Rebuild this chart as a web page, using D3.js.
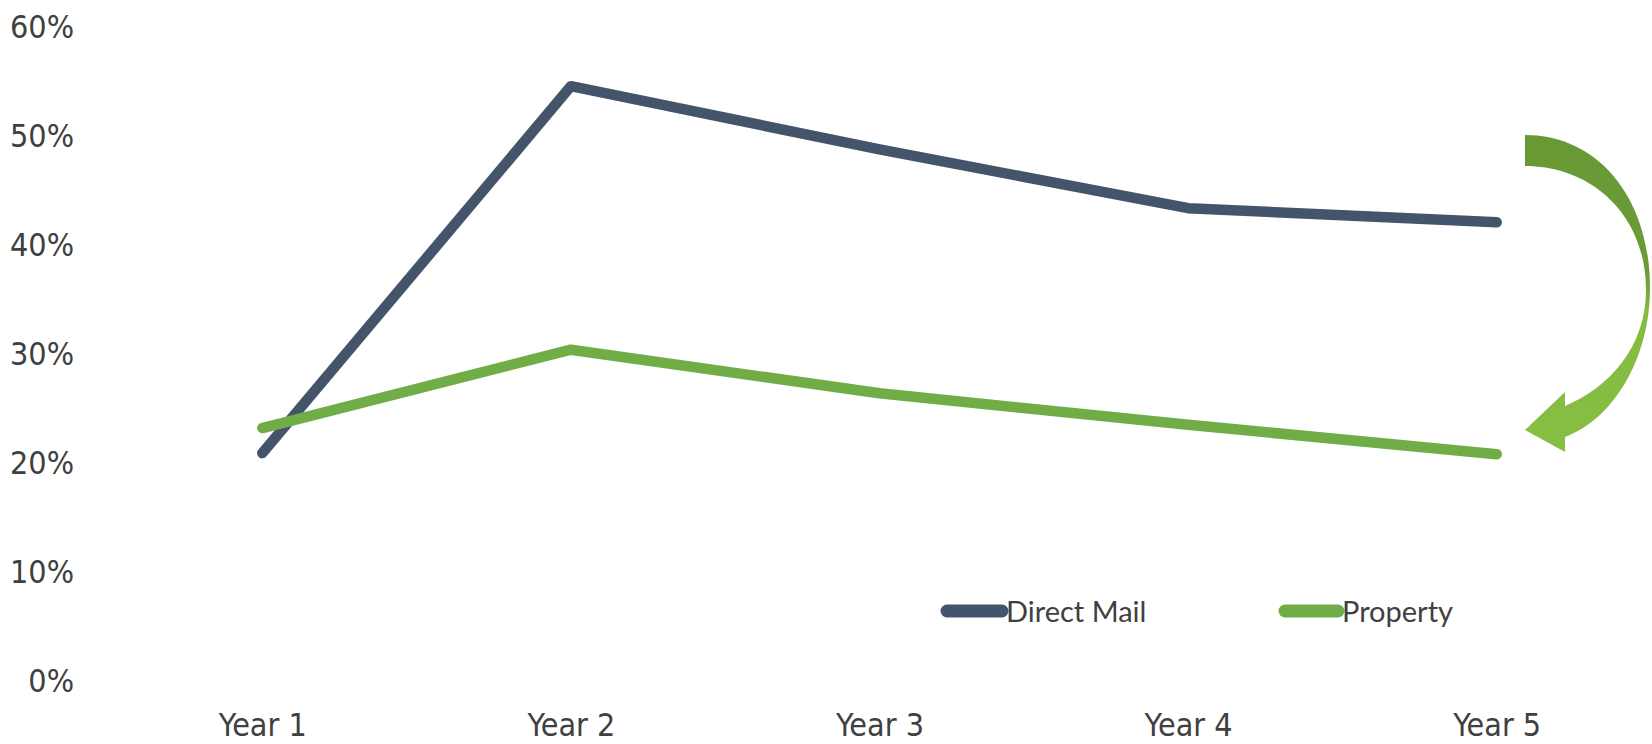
<!DOCTYPE html>
<html>
<head>
<meta charset="utf-8">
<script src="https://cdn.jsdelivr.net/npm/d3@7"></script>
<style>
  html, body { margin: 0; padding: 0; background: #ffffff; }
  svg { display: block; }
</style>
</head>
<body>
<div id="chart"></div>
<script>
// ---- Data ----
const categories = ["Year 1", "Year 2", "Year 3", "Year 4", "Year 5"];
const directMail = [0.208, 0.545, 0.487, 0.433, 0.420];
const property   = [0.231, 0.303, 0.263, 0.234, 0.207];
const yTicks = [0, 0.1, 0.2, 0.3, 0.4, 0.5, 0.6];
const seriesNames = ["Direct Mail", "Property"];
const seriesColors = ["#44546A", "#70AD47"];

// ---- Layout ----
const W = 1652, H = 744;
const svg = d3.select("#chart").append("svg").attr("width", W).attr("height", H);

const x = d3.scalePoint().domain(categories).range([108, 1651]).padding(0.5);
const y = d3.scaleLinear().domain([0, 0.6]).range([679.6, 26.3]);

const labelFont = "'DejaVu Sans Condensed', 'DejaVu Sans', sans-serif";

// Y axis
const yAxis = svg.append("g").attr("transform", "translate(74,0)")
  .call(d3.axisLeft(y).tickValues(yTicks).tickSize(0).tickPadding(0).tickFormat(d3.format(".0%")));
yAxis.select(".domain").remove();
yAxis.selectAll("text")
  .attr("font-family", labelFont).attr("font-size", 32).attr("fill", "#404040")
  .attr("dy", "0.36em");

// X axis
const xAxis = svg.append("g").attr("transform", "translate(0,698)")
  .call(d3.axisBottom(x).tickSize(0).tickPadding(0));
xAxis.select(".domain").remove();
xAxis.selectAll("text")
  .attr("font-family", labelFont).attr("font-size", 32).attr("fill", "#404040")
  .attr("dy", "1.2em");

// Lines
const line = d3.line().x((d, i) => x(categories[i])).y(d => y(d));
[directMail, property].forEach((vals, k) => {
  svg.append("path").datum(vals)
    .attr("d", line)
    .attr("fill", "none")
    .attr("stroke", seriesColors[k])
    .attr("stroke-width", 10.5)
    .attr("stroke-linecap", "round")
    .attr("stroke-linejoin", "round");
});

// Legend
const legendItems = [
  { name: seriesNames[0], color: seriesColors[0], x1: 947, x2: 1002, tx: 1006 },
  { name: seriesNames[1], color: seriesColors[1], x1: 1285, x2: 1338, tx: 1342 }
];
const lg = svg.append("g");
legendItems.forEach(it => {
  lg.append("line").attr("x1", it.x1).attr("x2", it.x2).attr("y1", 611).attr("y2", 611)
    .attr("stroke", it.color).attr("stroke-width", 13).attr("stroke-linecap", "round");
  lg.append("text").attr("x", it.tx).attr("y", 621.5)
    .attr("font-family", "Lato, 'Open Sans', sans-serif").attr("font-size", 29)
    .attr("fill", "#404040").text(it.name);
});

// Curved arrow
const defs = svg.append("defs");
const grad = defs.append("linearGradient").attr("id", "arrowGrad")
  .attr("x1", 0).attr("y1", 0).attr("x2", 0).attr("y2", 1);
grad.append("stop").attr("offset", "0").attr("stop-color", "#689934");
grad.append("stop").attr("offset", "0.44").attr("stop-color", "#6B9C37");
grad.append("stop").attr("offset", "0.56").attr("stop-color", "#82BB41");
grad.append("stop").attr("offset", "1").attr("stop-color", "#86BF43");

svg.append("path")
  .attr("d", "M1525,135 C1600,135 1650,200 1650,288 C1650,360 1612,420 1565,437 L1565,452 L1525,430 L1565,392 L1565,406 C1608,388 1646,348 1646,290 C1646,215 1592,166 1525,166 Z")
  .attr("fill", "url(#arrowGrad)");
</script>
</body>
</html>
